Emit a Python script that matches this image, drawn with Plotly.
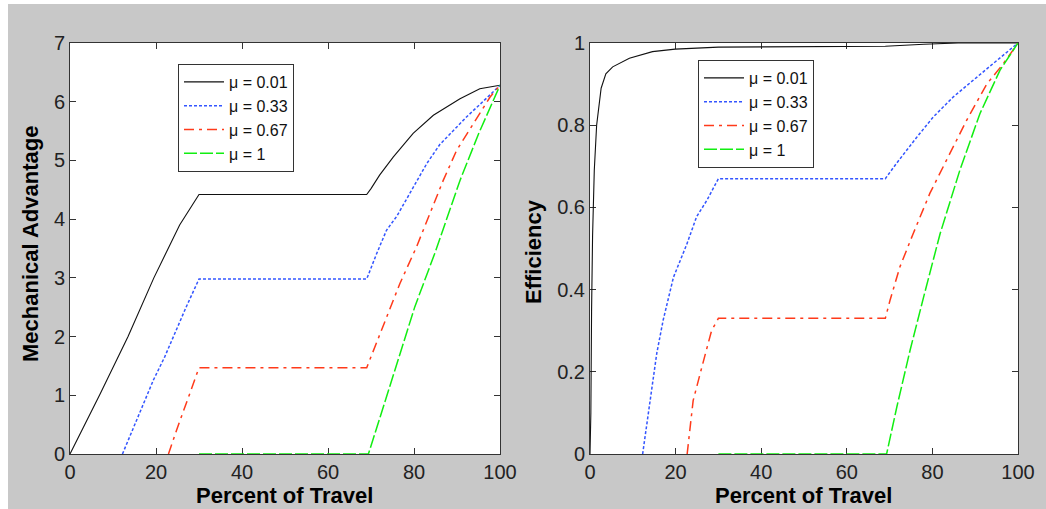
import plotly.graph_objects as go

# ---------------- data ----------------
legend_names = ["μ = 0.01", "μ = 0.33", "μ = 0.67", "μ = 1"]

# Mechanical Advantage vs percent of travel
ma_x_001 = [0, 3.5, 7, 13.5, 19.5, 25.5, 30, 69, 70, 72, 75.2, 79.8, 84.5, 90.7, 95.3, 100]
ma_y_001 = [0, 0.5, 1.02, 2.0, 3.0, 3.9, 4.42, 4.42, 4.52, 4.75, 5.06, 5.46, 5.77, 6.05, 6.22, 6.28]

ma_x_033 = [12.2, 15, 19.4, 22, 24, 27, 30, 69, 71.3, 73.6, 76, 79.8, 83, 86, 89, 92.2, 96, 100]
ma_y_033 = [0, 0.5, 1.26, 1.65, 2.0, 2.5, 2.98, 2.98, 3.41, 3.81, 4.05, 4.55, 4.95, 5.27, 5.5, 5.74, 6.0, 6.28]

ma_x_067 = [22.9, 24.8, 28.3, 30, 69, 70.2, 72.1, 74.4, 76.7, 80.6, 83.7, 86.8, 89.9, 93.8, 97.7, 100]
ma_y_067 = [0, 0.41, 1.12, 1.47, 1.47, 1.69, 2.03, 2.45, 2.9, 3.53, 4.1, 4.66, 5.17, 5.63, 6.08, 6.28]

ma_x_1 = [30, 69.4, 72, 75.6, 80.2, 85, 90.7, 95, 100]
ma_y_1 = [0, 0, 0.6, 1.43, 2.51, 3.45, 4.66, 5.45, 6.28]

# Efficiency vs percent of travel
ef_x_001 = [0, 0.2, 0.37, 0.6, 1.0, 1.55, 2.6, 3.7, 5.3, 9.2, 14.6, 19.9, 30, 50, 69, 78, 86, 100]
ef_y_001 = [0, 0.1, 0.35, 0.53, 0.69, 0.80, 0.89, 0.925, 0.942, 0.963, 0.979, 0.985, 0.99, 0.991, 0.992, 0.997, 1.0, 1.0]

ef_x_033 = [12.3, 13.2, 15.6, 17.1, 19.5, 22.6, 24.9, 27.3, 30, 69, 71.6, 76.3, 80.2, 84.9, 89.6, 94.2, 100]
ef_y_033 = [0, 0.066, 0.245, 0.326, 0.43, 0.51, 0.577, 0.617, 0.67, 0.67, 0.707, 0.77, 0.82, 0.869, 0.909, 0.95, 1.0]

ef_x_067 = [22.7, 24.1, 26.1, 28.4, 30, 69, 70.1, 72.4, 75.5, 79.4, 83.3, 88, 92.7, 96.6, 100]
ef_y_067 = [0, 0.13, 0.21, 0.30, 0.33, 0.33, 0.374, 0.455, 0.536, 0.634, 0.715, 0.812, 0.90, 0.95, 1.0]

ef_x_1 = [30, 69.3, 71.7, 74.8, 77.9, 81.8, 86.4, 91.1, 95.8, 100]
ef_y_1 = [0, 0, 0.115, 0.253, 0.38, 0.536, 0.69, 0.828, 0.934, 1.0]

x_ticks = [0, 20, 40, 60, 80, 100]
ma_ticks = [0, 1, 2, 3, 4, 5, 6, 7]
ef_ticks = [0, 0.2, 0.4, 0.6, 0.8, 1]
ef_tick_text = ["0", "0.2", "0.4", "0.6", "0.8", "1"]

# ---------------- styles ----------------
colors = ["#111111", "#3355ff", "#ff3a1a", "#11ee11"]
dashes = ["solid", "3px,2px", "10px,5px,3px,5px", "13px,3px"]
widths = [1.1, 1.5, 1.5, 1.5]

W, H = 1046, 509
FONT = "Liberation Sans, Arial, sans-serif"

fig = go.Figure()

ma_series = [(ma_x_001, ma_y_001), (ma_x_033, ma_y_033), (ma_x_067, ma_y_067), (ma_x_1, ma_y_1)]
ef_series = [(ef_x_001, ef_y_001), (ef_x_033, ef_y_033), (ef_x_067, ef_y_067), (ef_x_1, ef_y_1)]

for i, (xs, ys) in enumerate(ma_series):
    fig.add_trace(go.Scatter(x=xs, y=ys, mode="lines", name=legend_names[i],
                             line=dict(color=colors[i], dash=dashes[i], width=widths[i]),
                             xaxis="x", yaxis="y", legend="legend"))
for i, (xs, ys) in enumerate(ef_series):
    fig.add_trace(go.Scatter(x=xs, y=ys, mode="lines", name=legend_names[i],
                             line=dict(color=colors[i], dash=dashes[i], width=widths[i]),
                             xaxis="x2", yaxis="y2", legend="legend2"))

def px_x(p):
    return p / W

def px_y(p):
    return 1 - p / H

axis_common = dict(showline=True, linecolor="#333333", linewidth=1, mirror="ticks",
                   ticks="inside", ticklen=6, tickcolor="#333333", showgrid=False,
                   zeroline=False, automargin=False, layer="below traces",
                   tickfont=dict(family=FONT, size=20, color="#222222"))

left_dom = [px_x(70), px_x(500)]
right_dom = [px_x(590), px_x(1018)]
y_dom = [px_y(454), px_y(43)]

legend_common = dict(bgcolor="white", bordercolor="#333333", borderwidth=1,
                     font=dict(family=FONT, size=16, color="#111111"),
                     xanchor="left", yanchor="top", tracegroupgap=0, itemwidth=40)

fig.update_layout(
    width=W, height=H,
    margin=dict(l=0, r=0, t=0, b=0),
    paper_bgcolor="#c8c8c8", plot_bgcolor="white",
    showlegend=True,
    xaxis=dict(domain=left_dom, range=[0, 100], tickvals=x_ticks, anchor="y", **axis_common),
    yaxis=dict(domain=y_dom, range=[0, 7], tickvals=ma_ticks, anchor="x", **axis_common),
    xaxis2=dict(domain=right_dom, range=[0, 100], tickvals=x_ticks, anchor="y2", **axis_common),
    yaxis2=dict(domain=y_dom, range=[0, 1], tickvals=ef_ticks, ticktext=ef_tick_text, anchor="x2", **axis_common),
    legend=dict(x=px_x(178), y=px_y(64), **legend_common),
    legend2=dict(x=px_x(698), y=px_y(60), **legend_common),
)

title_font = dict(family=FONT, size=22, color="#000000")
annotations = [
    dict(text="<b>Percent of Travel</b>", x=px_x(284), y=px_y(495)),
    dict(text="<b>Percent of Travel</b>", x=px_x(803), y=px_y(495)),
    dict(text="<b>Mechanical Advantage</b>", x=px_x(31), y=px_y(244), textangle=-90),
    dict(text="<b>Efficiency</b>", x=px_x(534), y=px_y(252), textangle=-90),
]
for a in annotations:
    fig.add_annotation(xref="paper", yref="paper", showarrow=False,
                       xanchor="center", yanchor="middle", font=title_font, **a)

# thin white border strip at top/left as in the reference image
fig.add_shape(type="rect", xref="paper", yref="paper", x0=0, x1=px_x(8), y0=0, y1=1,
              fillcolor="white", line=dict(width=0), layer="below")
fig.add_shape(type="rect", xref="paper", yref="paper", x0=0, x1=1, y0=px_y(4), y1=1,
              fillcolor="white", line=dict(width=0), layer="below")

fig.write_html("out.html")
